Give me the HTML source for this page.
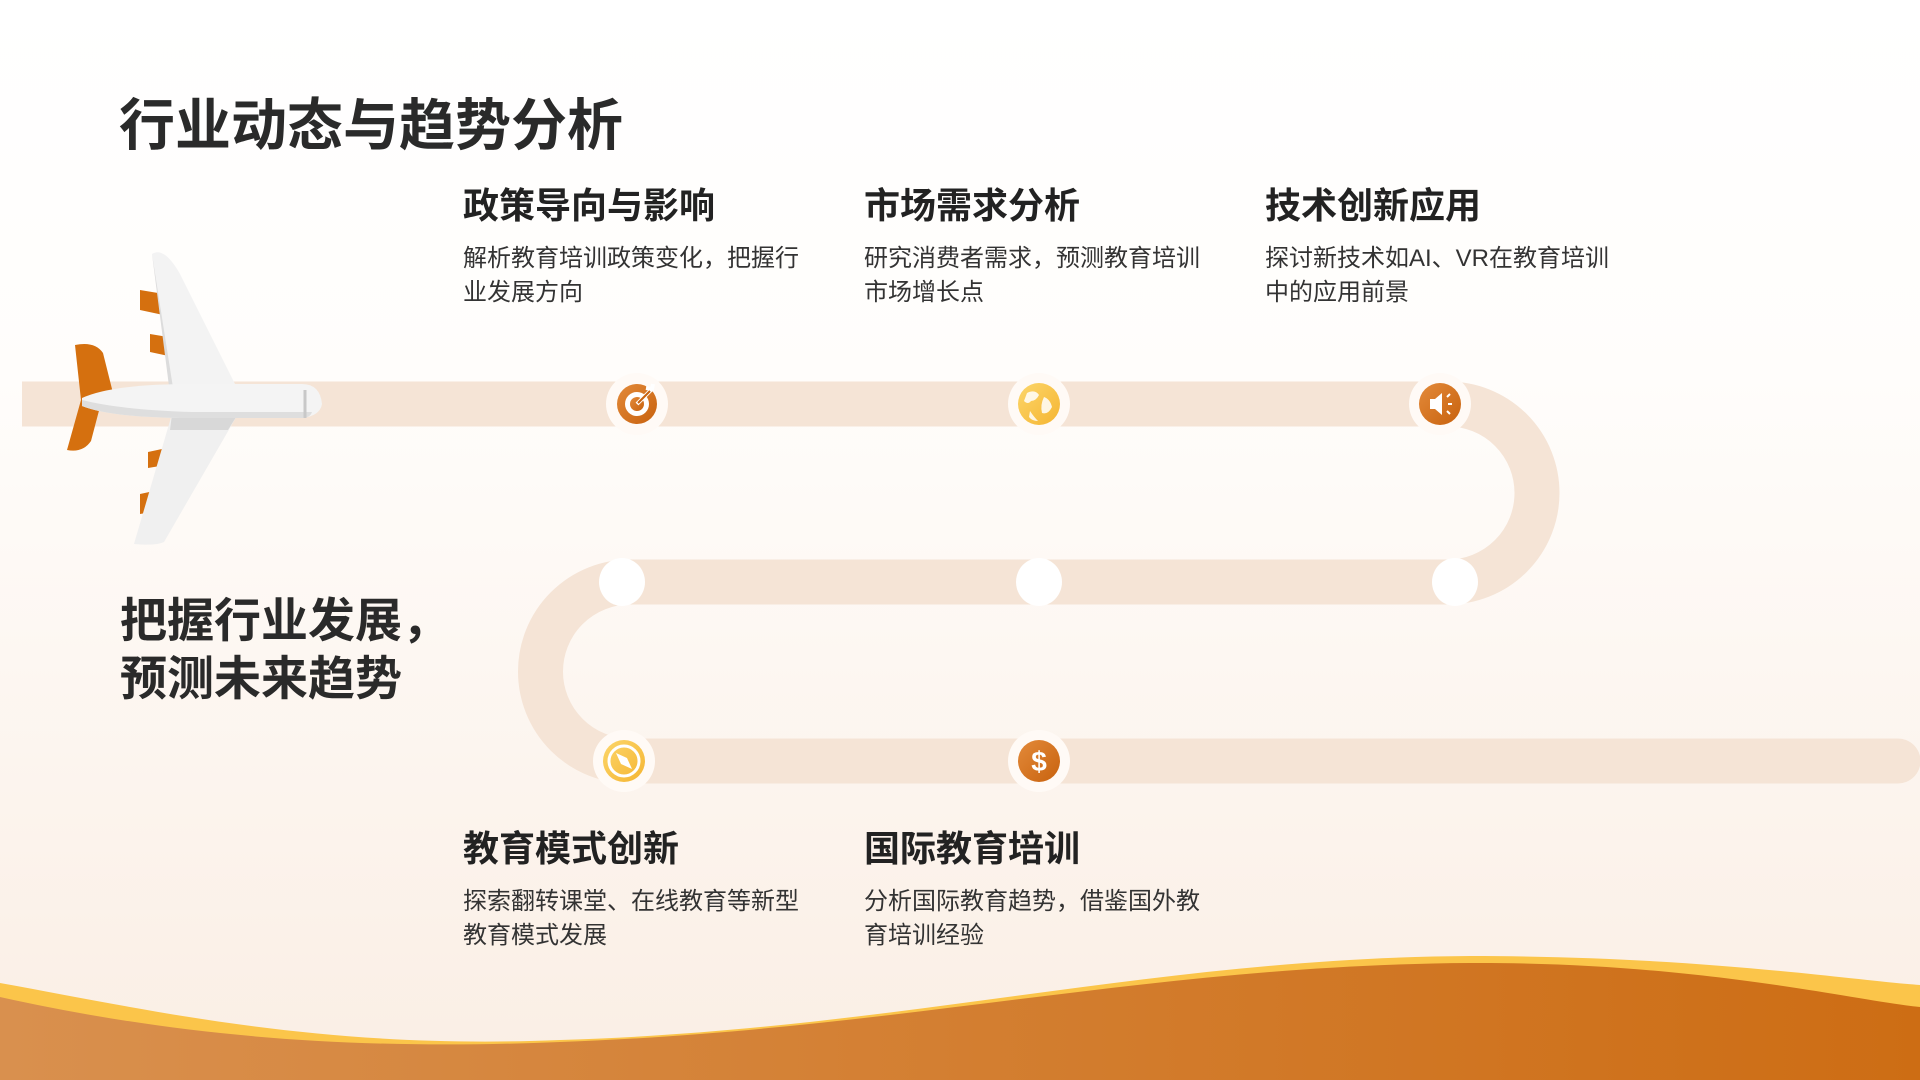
<!DOCTYPE html>
<html><head><meta charset="utf-8"><style>
html,body{margin:0;padding:0}
body{width:1920px;height:1080px;position:relative;overflow:hidden;font-family:"Liberation Sans","Noto Sans CJK SC",sans-serif;background:linear-gradient(#ffffff 0%,#fffdfb 35%,#faeee4 100%)}
.t{position:absolute;color:#222;white-space:nowrap}
.h{font-size:36px;font-weight:700}
.b{font-size:24px;line-height:34px;color:#333}
svg{position:absolute;left:0;top:0}
</style></head><body>
<svg width="1920" height="1080" viewBox="0 0 1920 1080">
<defs>
<linearGradient id="og" x1="0" x2="1"><stop offset="0" stop-color="#d9904e"/><stop offset="1" stop-color="#cd6d14"/></linearGradient>
<linearGradient id="ic" x1="0" y1="0" x2="1" y2="1"><stop offset="0" stop-color="#e38a3a"/><stop offset="1" stop-color="#c8620e"/></linearGradient>
<linearGradient id="iy" x1="0" y1="0" x2="1" y2="1"><stop offset="0" stop-color="#fcd66a"/><stop offset="1" stop-color="#f5b532"/></linearGradient>
</defs>
<path d="M22 404 H1448 A89 89 0 0 1 1448 582 H630 A89.5 89.5 0 0 0 630 761 H1898" fill="none" stroke="#f5e4d6" stroke-width="45"/>
<path d="M1898 738.5 A22.5 22.5 0 0 1 1898 783.5" fill="#f5e4d6"/>
<ellipse cx="622" cy="582" rx="23" ry="24" fill="#fff"/>
<ellipse cx="1039" cy="582" rx="23" ry="24" fill="#fff"/>
<ellipse cx="1455" cy="582" rx="23" ry="24" fill="#fff"/>
<g fill="#fffaf6"><circle cx="637" cy="404" r="31"/><circle cx="1039" cy="404" r="31"/><circle cx="1440" cy="404" r="31"/><circle cx="624" cy="761" r="31"/><circle cx="1039" cy="761" r="31"/></g>
<circle cx="637" cy="404" r="20" fill="url(#ic)"/>
<circle cx="637" cy="404" r="12" fill="#fff"/><circle cx="637" cy="404" r="7" fill="url(#ic)"/>
<path d="M637 404 L651 390 M646 388 L652 389 L653 384" stroke="#fff" stroke-width="4" fill="none"/>
<path d="M638 403 L650 391" stroke="#c8620e" stroke-width="2"/>
<circle cx="1039" cy="404" r="21" fill="url(#iy)"/>
<path d="M1027 393 q8-4 12 2 q-3 6-8 6 q-3 4-7 0z M1044 397 q6 2 8 10 q-4 8-10 6 q-2-8 2-16z M1030 411 q4 6 8 10 q-6 0-9-4z" fill="#fff" opacity=".85"/>
<circle cx="1440" cy="404" r="21" fill="url(#ic)"/>
<path d="M1430 399 h5 l7-6 v22 l-7-6 h-5z" fill="#fff"/>
<path d="M1447 397 l3-3 M1448 404 h4 M1447 411 l3 3" stroke="#fff" stroke-width="2"/>
<circle cx="624" cy="761" r="21" fill="url(#iy)"/>
<circle cx="624" cy="761" r="15" fill="none" stroke="#fff" stroke-width="3"/>
<path d="M616 753 L627 758 L632 769 L621 764z" fill="#fff"/>
<circle cx="1039" cy="761" r="21" fill="url(#ic)"/>
<text x="1039" y="771" text-anchor="middle" font-family="Liberation Sans" font-weight="700" font-size="28" fill="#fff">$</text>
<g>
<path d="M140 290 l24 4 l4 22 l-28 -6z M150 334 l24 4 l4 20 l-28-6z M140 514 l24 -4 l4 -22 l-28 6z M148 468 l24-4 l4-18 l-28 6z" fill="#d5700f"/>
<path d="M75 345 q20-4 28 8 l10 40 l-12 10 l-10 38 q-8 12-24 9 l14-50 z" fill="#d5700f"/>
<path d="M152 254 q12-8 28 20 l60 120 h-68z" fill="#f3f3f3"/>
<path d="M152 254 l22 140 h-4z" fill="#dcdcdc"/>
<path d="M172 414 h66 l-74 128 q-8 4-30 2z" fill="#f0f0f0"/>
<path d="M172 414 h66 l-10 16 h-58z" fill="#d8d8d8"/>
<path d="M82 398 q30-14 110-14 h110 q18 0 20 20 q-2 12-20 14 h-110 q-80 0-110-12z" fill="#f4f4f4"/>
<path d="M82 400 q40 10 110 12 h120 q-2 6-10 6 h-110 q-80 0-110-12z" fill="#dedede"/>
<path d="M305 390 v28" stroke="#c8c8c8" stroke-width="3"/>
</g>
<path d="M0 983 C150 1010 320 1050 560 1040 C900 1030 1150 958 1470 956 C1700 956 1850 980 1920 985 V1080 H0z" fill="#fbc54a"/>
<path d="M0 997 C150 1030 320 1052 560 1042 C900 1030 1150 965 1470 963 C1700 962 1850 1000 1920 1007 V1080 H0z" fill="url(#og)"/>
</svg>
<div class="t" style="left:119px;top:81px;font-size:56px;font-weight:700;color:#2a2a2a">行业动态与趋势分析</div>
<div class="t h" style="left:463px;top:177px">政策导向与影响</div>
<div class="t b" style="left:463px;top:242px">解析教育培训政策变化，把握行<br>业发展方向</div>
<div class="t h" style="left:864px;top:177px">市场需求分析</div>
<div class="t b" style="left:864px;top:242px">研究消费者需求，预测教育培训<br>市场增长点</div>
<div class="t h" style="left:1265px;top:177px">技术创新应用</div>
<div class="t b" style="left:1265px;top:242px">探讨新技术如AI、VR在教育培训<br>中的应用前景</div>
<div class="t h" style="left:463px;top:820px">教育模式创新</div>
<div class="t b" style="left:463px;top:885px">探索翻转课堂、在线教育等新型<br>教育模式发展</div>
<div class="t h" style="left:864px;top:820px">国际教育培训</div>
<div class="t b" style="left:864px;top:885px">分析国际教育趋势，借鉴国外教<br>育培训经验</div>
<div class="t" style="left:120px;top:592px;font-size:47px;font-weight:700;line-height:58px;color:#2a2a2a">把握行业发展，<br>预测未来趋势</div>
</body></html>
